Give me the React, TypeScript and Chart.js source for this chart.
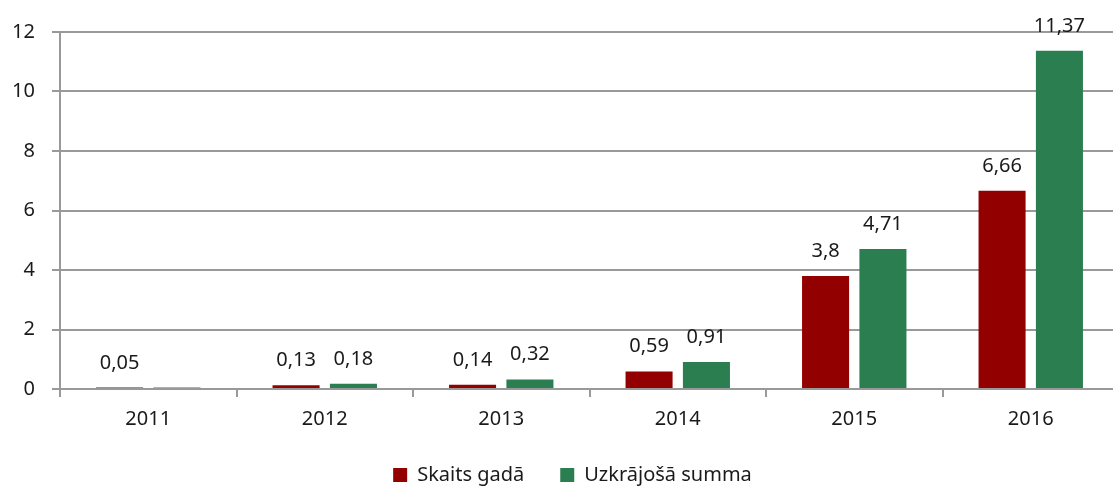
import React, { useEffect, useRef } from "react";
import { Chart, registerables } from "chart.js";

Chart.register(...registerables);

const categories = ["2011", "2012", "2013", "2014", "2015", "2016"];
const skaitsGada = [0.05, 0.13, 0.14, 0.59, 3.8, 6.66];
const uzkrajosaSumma = [0.05, 0.18, 0.32, 0.91, 4.71, 11.37];
const skaitsLabels = ["0,05", "0,13", "0,14", "0,59", "3,8", "6,66"];
const summaLabels = [null, "0,18", "0,32", "0,91", "4,71", "11,37"];
const yTicks = [0, 2, 4, 6, 8, 10, 12];

const FONT = "'Noto Sans', sans-serif";
const FS = 20;
const W = 1119;

const labelPlugin = {
  id: "valueLabels",
  beforeInit(chart: any) {
    const lg = chart.legend;
    if (lg && !lg.__patched) {
      const orig = lg.fit.bind(lg);
      lg.fit = function () {
        orig();
        this.height = Math.max(0, this.height - 19);
      };
      lg.__patched = true;
    }
  },
  afterLayout(chart: any) {
    if (chart.legend) {
      chart.legend.top -= 12;
      chart.legend.left += 13;
      chart.legend.right += 13;
    }
  },
  afterDatasetsDraw(chart: any) {
    const ctx = chart.ctx;
    const lbls = [skaitsLabels, summaLabels];
    ctx.save();
    ctx.font = `${FS}px ${FONT}`;
    ctx.fillStyle = "#1a1a1a";
    ctx.textAlign = "center";
    ctx.textBaseline = "alphabetic";
    chart.data.datasets.forEach((_: any, di: number) => {
      const meta = chart.getDatasetMeta(di);
      meta.data.forEach((bar: any, i: number) => {
        const t = lbls[di][i];
        if (!t) return;
        ctx.fillText(t, bar.x, bar.y - 19);
      });
    });
    ctx.restore();
  },
};

export default function App() {
  const ref = useRef<HTMLCanvasElement | null>(null);
  useEffect(() => {
    if (!ref.current) return;
    const chart = new Chart(ref.current, {
      type: "bar",
      data: {
        labels: categories,
        datasets: [
          {
            label: "Skaits gadā",
            data: skaitsGada,
            backgroundColor: "#930000",
            categoryPercentage: 0.65,
            barPercentage: 0.82,
          },
          {
            label: "Uzkrājošā summa",
            data: uzkrajosaSumma,
            backgroundColor: "#2a7e50",
            categoryPercentage: 0.65,
            barPercentage: 0.82,
          },
        ],
      },
      options: {
        animation: false,
        responsive: false,
        maintainAspectRatio: false,
        layout: { padding: { top: 32, right: 0, left: 0, bottom: 0 } },
        plugins: {
          legend: {
            position: "bottom",
            labels: {
              boxWidth: 14,
              boxHeight: 14,
              font: { family: FONT, size: FS },
              color: "#1a1a1a",
              padding: 36,
            },
          },
          tooltip: { enabled: false },
        },
        scales: {
          x: {
            offset: true,
            grid: {
              offset: true,
              drawOnChartArea: false,
              color: "#999",
              lineWidth: 2,
              tickLength: 8,
            },
            border: { color: "#999", width: 2 },
            ticks: {
              font: { family: FONT, size: FS },
              color: "#1a1a1a",
              padding: 10,
            },
          },
          y: {
            min: 0,
            max: 12,
            afterBuildTicks(axis: any) {
              axis.ticks = yTicks.map((v) => ({ value: v }));
            },
            afterFit(axis: any) {
              axis.width = 60;
            },
            grid: { color: "#999", lineWidth: 2, tickLength: 8 },
            border: { color: "#999", width: 2 },
            ticks: {
              font: { family: FONT, size: FS },
              color: "#1a1a1a",
              padding: 17,
            },
          },
        },
      },
      plugins: [labelPlugin],
    } as any);
    return () => chart.destroy();
  }, []);
  return (
    <div style={{ position: "absolute", left: 0, top: 0, width: W, height: 488, overflow: "hidden" }}>
      <canvas ref={ref} width={W} height={488} style={{ display: "block" }} />
    </div>
  );
}
